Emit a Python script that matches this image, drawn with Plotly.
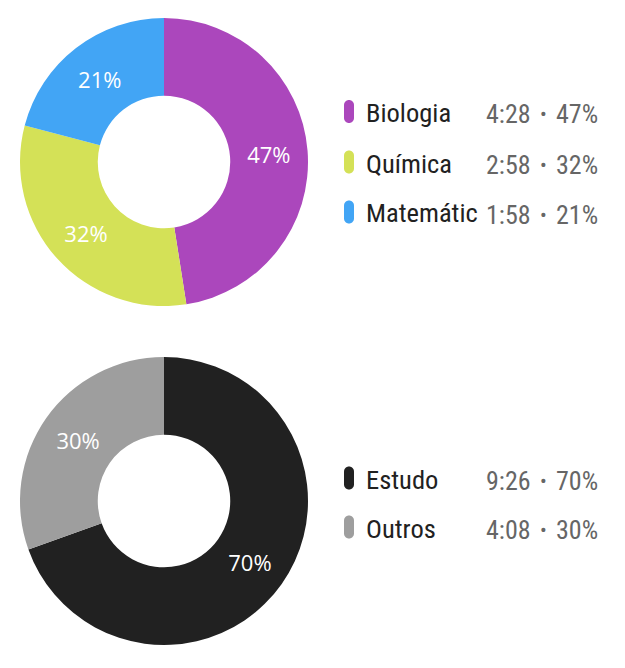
import plotly.graph_objects as go

W, H = 625, 668

# ---- data ----
categories1 = ["Biologia", "Química", "Matemátic"]
minutes1 = [268, 178, 118]
times1 = ["4:28", "2:58", "1:58"]
pct1 = ["47%", "32%", "21%"]
colors1 = ["#AB47BC", "#D4E157", "#42A5F5"]

categories2 = ["Estudo", "Outros"]
minutes2 = [566, 248]
times2 = ["9:26", "4:08"]
pct2 = ["70%", "30%"]
colors2 = ["#212121", "#9E9E9E"]

NAME_FONT = "Roboto Condensed, DejaVu Sans Condensed, sans-serif"


def px_x(x):
    return x / W


def px_y(y):
    return 1 - y / H


fig = go.Figure()

pies = [
    (categories1, minutes1, pct1, colors1, (20, 308), (18, 306)),
    (categories2, minutes2, pct2, colors2, (20, 308), (357, 645)),
]
for cats, vals, pcts, cols, (x0, x1), (y0, y1) in pies:
    fig.add_trace(go.Pie(
        labels=cats, values=vals, text=pcts,
        textinfo="text", textposition="inside",
        insidetextorientation="horizontal",
        textfont=dict(family="Open Sans, Roboto, sans-serif", size=22, color="white"),
        marker=dict(colors=cols, line=dict(width=0)),
        hole=0.46, sort=False, direction="clockwise", rotation=0,
        domain=dict(x=[px_x(x0), px_x(x1)], y=[px_y(y1), px_y(y0)]),
        showlegend=False, hoverinfo="label+value",
    ))

annotations = []
shapes = []

pill = ("M -5,-6.5 L -5,6.5 C -5,9.26 -2.76,11.5 0,11.5 "
        "C 2.76,11.5 5,9.26 5,6.5 L 5,-6.5 C 5,-9.26 2.76,-11.5 0,-11.5 "
        "C -2.76,-11.5 -5,-9.26 -5,-6.5 Z")

legend_rows = [
    (categories1, times1, pct1, colors1, [111.5, 162, 212]),
    (categories2, times2, pct2, colors2, [478, 527]),
]
for cats, times, pcts, cols, ys in legend_rows:
    for name, t, p, c, yc in zip(cats, times, pcts, cols, ys):
        shapes.append(dict(
            type="path", path=pill, xref="paper", yref="paper",
            xsizemode="pixel", ysizemode="pixel",
            xanchor=px_x(349), yanchor=px_y(yc),
            fillcolor=c, line=dict(width=0),
        ))
        annotations.append(dict(
            x=px_x(364), y=px_y(yc + 1), xref="paper", yref="paper",
            xanchor="left", yanchor="middle", showarrow=False, text=name,
            font=dict(family=NAME_FONT, size=26.5, color="#212121"),
        ))
        annotations.append(dict(
            x=px_x(533), y=px_y(yc + 2.5), xref="paper", yref="paper",
            xanchor="right", yanchor="middle", showarrow=False, text=t,
            font=dict(family=NAME_FONT, size=26, color="#666666"),
        ))
        annotations.append(dict(
            x=px_x(543), y=px_y(yc + 3), xref="paper", yref="paper",
            xanchor="center", yanchor="middle", showarrow=False, text="•",
            font=dict(family=NAME_FONT, size=20, color="#666666"),
        ))
        annotations.append(dict(
            x=px_x(600), y=px_y(yc + 2.5), xref="paper", yref="paper",
            xanchor="right", yanchor="middle", showarrow=False, text=p,
            font=dict(family=NAME_FONT, size=26, color="#666666"),
        ))

fig.update_layout(
    width=W, height=H,
    margin=dict(l=0, r=0, t=0, b=0),
    paper_bgcolor="white", plot_bgcolor="white",
    annotations=annotations, shapes=shapes,
)

fig.write_html("out.html")
